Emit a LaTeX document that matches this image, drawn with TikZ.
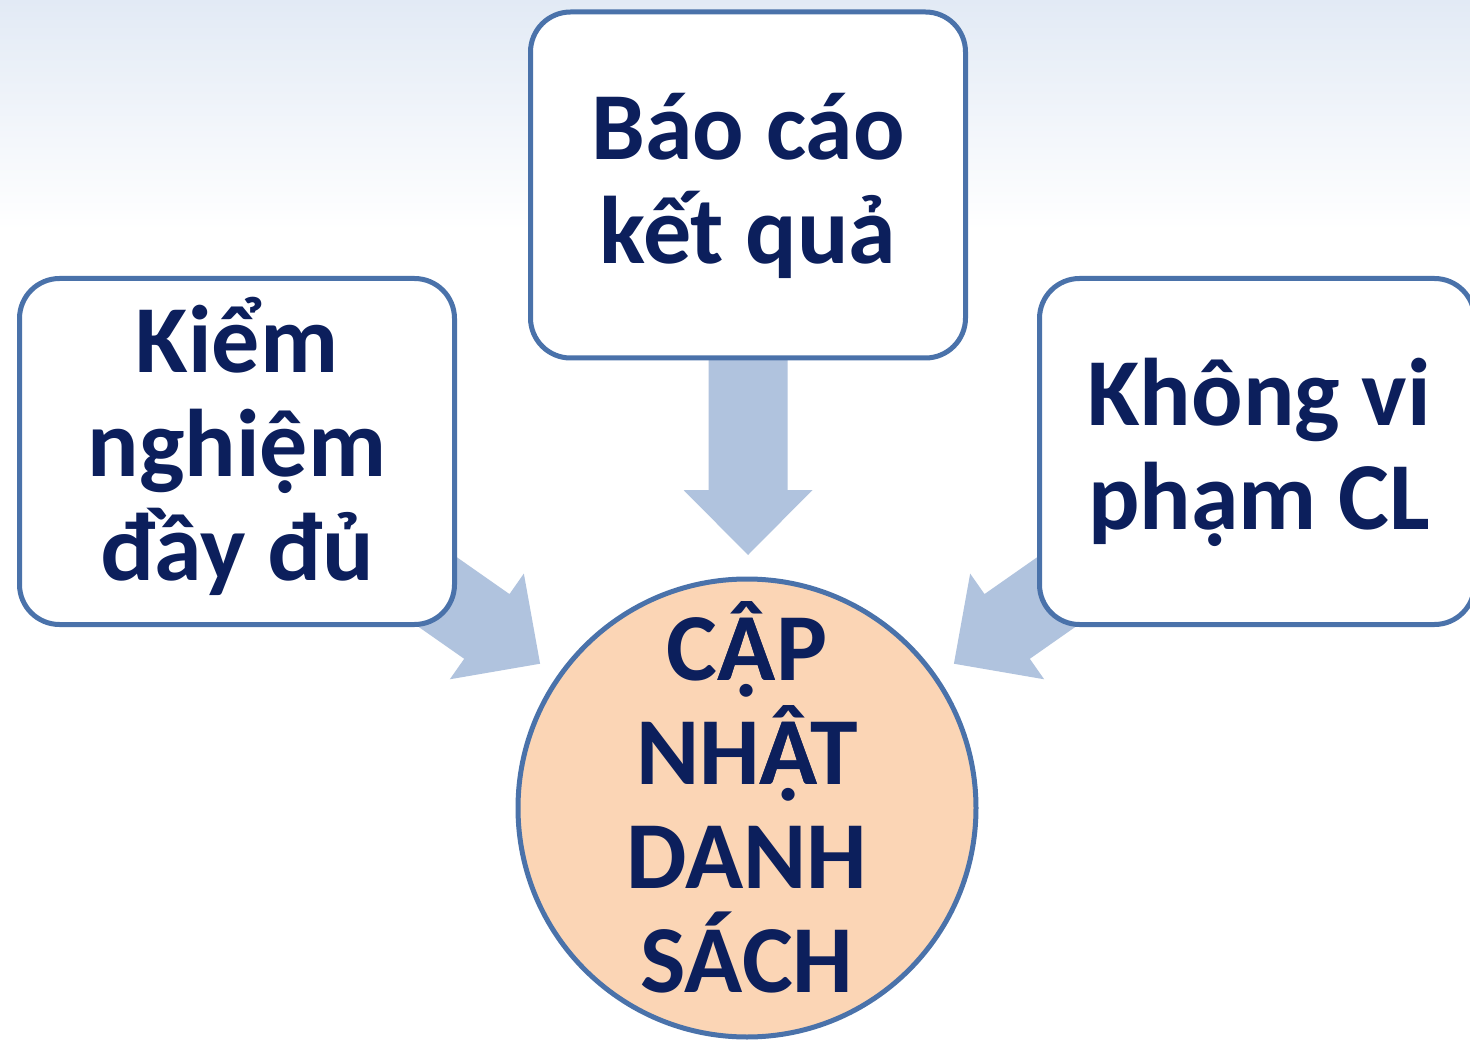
\documentclass[tikz,border=0pt]{standalone}
\usepackage{fontspec}
\setmainfont{Carlito}
\definecolor{navy}{RGB}{12,31,92}
\definecolor{boxedge}{RGB}{74,114,170}
\definecolor{arrowfill}{RGB}{176,195,222}
\definecolor{peach}{RGB}{251,213,181}
\definecolor{bgtop}{RGB}{226,234,245}
% A with circumflex and dot below, built from two precomposed glyphs
\newcommand\AcircDot{\rlap{Â}Ạ}
\begin{document}
\begin{tikzpicture}[x=1pt,y=-1pt,
  box/.style={draw=boxedge, line width=5pt, fill=white, rounded corners=40pt,
    minimum width=435pt, minimum height=346pt, inner sep=0pt},
  hub/.style={circle, draw=boxedge, line width=5pt, fill=peach,
    minimum size=458pt, inner sep=0pt},
  txt/.style={text=navy, font=\bfseries\fontsize{96}{104}\selectfont,
    align=center, anchor=base, inner sep=0pt},
  blockarrow/.style={fill=arrowfill, draw=none}]
\useasboundingbox (0,0) rectangle (1470,1040);
\begin{scope}
\clip (0,0) rectangle (1470,1040);
% background
\fill[white] (0,0) rectangle (1470,1040);
\shade[top color=bgtop, bottom color=white] (0,0) rectangle (1470,230);
% anchor points
\coordinate (knc) at (237,451.5);
\coordinate (bcc) at (748,185);
\coordinate (kvc) at (1257,451.5);
\coordinate (cnc) at (747,808);
% block arrows (behind boxes)
\foreach \s/\a in {knc/-35, bcc/-90, kvc/-145} {
  \begin{scope}[shift={(\s)}, rotate=\a]
    \fill[blockarrow] (0,-39.5) -- (305,-39.5) -- (305,-64.5) -- (370,0)
      -- (305,64.5) -- (305,39.5) -- (0,39.5) -- cycle;
  \end{scope}
}
% boxes
\node[box] (kn) at (knc) {};
\node[box] (bc) at (bcc) {};
\node[box] (kv) at (kvc) {};
\node[hub] (cn) at (cnc) {};
% texts (anchor = baseline of the last line)
\node[txt] (bct) at (748,264) {Báo cáo\\kết quả};
\node[txt] (knt) at (237,580) {Kiểm\\nghiệm\\đầy đủ};
\node[txt] (kvt) at (1259,529) {Không vi\\phạm CL};
\node[txt] (cnt) at (747,992) {C\AcircDot P\\NH\AcircDot T\\DANH\\SÁCH};
\end{scope}
\end{tikzpicture}
\end{document}
